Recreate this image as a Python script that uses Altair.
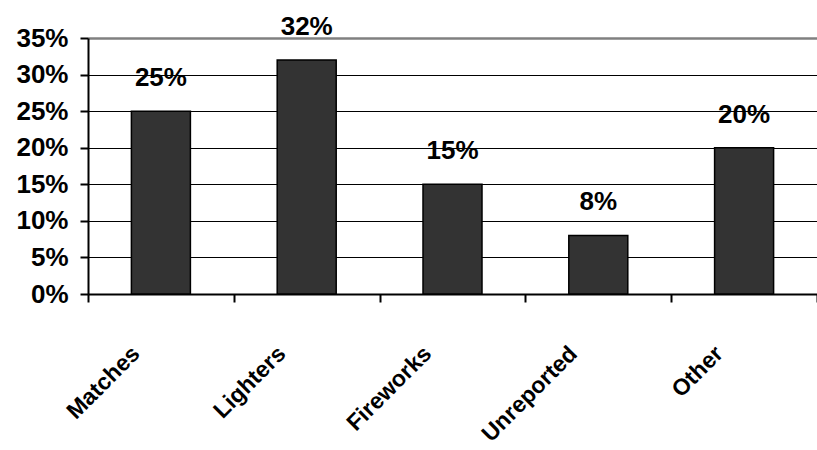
import altair as alt
import pandas as pd

categories = ["Matches", "Lighters", "Fireworks", "Unreported", "Other"]
shares = [0.25, 0.32, 0.15, 0.08, 0.20]
y_ticks = [0, 0.05, 0.10, 0.15, 0.20, 0.25, 0.30, 0.35]

df = pd.DataFrame({"cause": categories, "share": shares})

FONT = "Liberation Sans"

base = alt.Chart(df).encode(
    x=alt.X(
        "cause:N",
        sort=categories,
        title=None,
        scale=alt.Scale(paddingInner=0, paddingOuter=0),
        axis=alt.Axis(
            labelAngle=-45,
            labelFont=FONT,
            labelFontSize=23,
            labelFontWeight="bold",
            labelColor="black",
            labelPadding=40,
            labelOffset=-33,
            tickBand="extent",
            tickSize=8,
            tickWidth=2,
            tickColor="black",
            domainColor="black",
            domainWidth=2,
            grid=False,
        ),
    ),
    y=alt.Y(
        "share:Q",
        title=None,
        scale=alt.Scale(domain=[0, 0.35], nice=False),
        axis=alt.Axis(
            values=y_ticks,
            format=".0%",
            labelFont=FONT,
            labelFontSize=26,
            labelFontWeight="bold",
            labelColor="black",
            labelPadding=12,
            tickSize=8,
            tickWidth=2,
            tickColor="black",
            domainColor="black",
            domainWidth=2,
            grid=True,
            gridColor=alt.condition("datum.value >= 0.35", alt.value("#808080"), alt.value("black")),
            gridWidth=alt.condition("datum.value >= 0.35", alt.value(2.5), alt.value(1.2)),
            gridOpacity=1,
        ),
    ),
)

bars = base.mark_bar(size=59, color="#333333", stroke="black", strokeWidth=1.5)

labels = base.mark_text(
    baseline="bottom",
    dy=-20,
    font=FONT,
    fontSize=26,
    fontWeight="bold",
    color="black",
).encode(text=alt.Text("share:Q", format=".0%"))

chart = (
    (bars + labels)
    .properties(
        width=729,
        height=256,
        autosize="none",
        padding={"left": 88, "top": 38, "right": 0, "bottom": 156},
        background="white",
    )
    .configure_view(stroke=None)
)

chart.save("out.html", embed_options={"renderer": "svg", "actions": False})
